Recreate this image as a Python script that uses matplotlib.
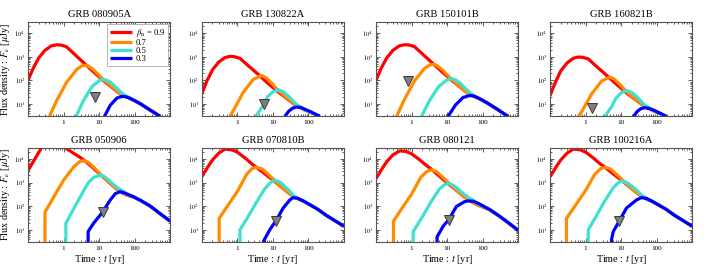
import matplotlib
matplotlib.use("Agg")
import matplotlib.pyplot as plt
from matplotlib.ticker import LogLocator, NullFormatter, FixedLocator, FixedFormatter

plt.rcParams['font.family'] = ['Liberation Serif', 'DejaVu Serif']
plt.rcParams['mathtext.fontset'] = 'stix'

# ---------------- data ----------------
titles = ["GRB 080905A", "GRB 130822A", "GRB 150101B", "GRB 160821B",
          "GRB 050906", "GRB 070810B", "GRB 080121", "GRB 100216A"]
betas = ["0.9", "0.7", "0.5", "0.3"]

# GRB 080905A
t_080905A_09 = [0.1, 0.14, 0.2, 0.3, 0.45, 0.64, 0.85, 1.2, 2.0, 4.0, 7.0, 13, 20, 40, 70, 150, 520]
f_080905A_09 = [101, 330, 900, 1900, 2900, 3250, 3150, 2700, 1320, 500, 230, 100, 60, 26, 18, 10, 3]
t_080905A_07 = [0.40, 0.64, 1.23, 2.35, 3.2, 4.0, 5.0, 7.0, 13, 20, 40, 70, 150, 520]
f_080905A_07 = [3, 14, 86, 295, 410, 440, 410, 280, 110, 65, 27, 18.3, 10, 3]
t_080905A_05 = [2.25, 3.62, 6.2, 9.6, 13.2, 17, 22, 30, 45, 70, 150, 520]
f_080905A_05 = [3, 14, 53, 94, 111, 100, 78, 50, 28, 18.6, 10.2, 3]
t_080905A_03 = [14.1, 20.4, 31.5, 43.5, 55, 67, 100, 143, 250, 522]
f_080905A_03 = [3, 8.8, 18, 21, 20.5, 18.6, 14, 10.3, 6, 3]

# GRB 130822A
t_130822A_09 = [0.1, 0.14, 0.2, 0.3, 0.45, 0.62, 0.85, 1.2, 2.0, 4.0, 7.0, 14, 20, 46, 80, 208]
f_130822A_09 = [27, 95, 280, 600, 930, 1050, 1010, 860, 430, 175, 80, 33, 22, 8.5, 5.5, 3]
t_130822A_07 = [0.62, 0.77, 1.48, 2.83, 4.8, 6.5, 9, 14, 20, 46, 80, 208]
f_130822A_07 = [3, 5.2, 32, 111, 164, 130, 80, 38, 24, 8.8, 5.6, 3]
t_130822A_05 = [3.3, 5.6, 7.0, 10, 14.1, 20, 30, 46, 80, 208]
f_130822A_05 = [3, 9.7, 20, 33, 40.6, 33, 19, 9.5, 5.7, 3]
t_130822A_03 = [21.7, 28, 36, 46, 60, 80, 120, 208]
f_130822A_03 = [3, 5, 6.7, 7.5, 7.2, 6, 4.6, 3]

# GRB 150101B
t_150101B_09 = [0.1, 0.14, 0.2, 0.3, 0.45, 0.65, 0.85, 1.2, 2.0, 4.0, 7.0, 13, 20, 40, 70, 150, 513]
f_150101B_09 = [101, 330, 900, 1900, 2900, 3280, 3180, 2730, 1350, 520, 240, 105, 63, 27, 18.5, 10, 3]
t_150101B_07 = [0.38, 0.62, 1.2, 2.3, 3.2, 4.05, 5, 7, 13, 20, 40, 70, 150, 513]
f_150101B_07 = [3, 15, 95, 320, 450, 480, 440, 300, 115, 66, 27, 18.5, 10, 3]
t_150101B_05 = [1.9, 3.2, 5.8, 9.4, 13.2, 17, 22, 30, 45, 70, 150, 513]
f_150101B_05 = [3, 14, 56, 100, 119, 106, 82, 52, 29, 18.8, 10.2, 3]
t_150101B_03 = [10.6, 17, 28, 43, 55, 67, 100, 143, 250, 513]
f_150101B_03 = [3, 9, 19, 23, 22, 19.5, 14.5, 10.5, 6.2, 3]

# GRB 160821B
t_160821B_09 = [0.1, 0.14, 0.2, 0.3, 0.45, 0.62, 0.85, 1.2, 2.0, 4.0, 7.0, 14, 20, 46, 80, 186]
f_160821B_09 = [23, 80, 250, 550, 870, 985, 950, 810, 400, 160, 74, 30, 20, 8, 5.2, 3]
t_160821B_07 = [0.62, 0.77, 1.48, 2.83, 4.8, 6.5, 9, 14, 20, 46, 80, 186]
f_160821B_07 = [3, 4.6, 27, 95, 140, 112, 70, 34, 21, 8.3, 5.3, 3]
t_160821B_05 = [3.5, 5.6, 7.0, 10, 14.1, 20, 30, 46, 80, 186]
f_160821B_05 = [3, 8.5, 17, 30, 38, 31, 18, 9, 5.4, 3]
t_160821B_03 = [22.6, 28, 36, 46, 60, 80, 120, 186]
f_160821B_03 = [3, 4.8, 6.4, 7, 6.6, 5.6, 4.2, 3]

# GRB 050906
t_050906_09 = [0.1, 0.15, 0.24, 0.35, 0.5, 0.7, 1.1, 1.8, 2.9, 4.5, 7, 11, 18, 30, 40, 60, 93, 150, 274, 500, 1000]
f_050906_09 = [3240, 9000, 30000, 52000, 62000, 55000, 30000, 18500, 11700, 7200, 4000, 2100, 1100, 560, 400, 290, 240, 170, 100, 50, 23]
t_050906_07 = [0.30, 0.30, 0.5, 1.0, 1.9, 2.8, 3.6, 5, 8, 12, 20, 30, 40, 60, 93, 150, 274, 500, 1000]
f_050906_07 = [1, 56, 210, 1260, 4500, 7600, 8500, 7200, 3700, 1900, 1000, 580, 410, 295, 243, 170, 100, 50, 23]
t_050906_05 = [1.16, 1.16, 2, 3.5, 5, 7, 10.7, 14, 20, 25, 35, 48, 60, 93, 150, 274, 500, 1000]
f_050906_05 = [1, 19, 86, 400, 1000, 1650, 2040, 1800, 1150, 830, 560, 430, 320, 248, 170, 100, 50, 23]
t_050906_03 = [4.9, 4.9, 7, 10.7, 12.6, 20.4, 28.5, 39, 55, 93, 150, 274, 500, 1000]
f_050906_03 = [1, 8.4, 19, 42, 58, 180, 340, 410, 350, 250, 172, 100, 50, 23]

# GRB 070810B
t_070810B_09 = [0.1, 0.15, 0.2, 0.3, 0.45, 0.7, 1.0, 1.6, 2.5, 3.33, 5, 8, 11.4, 18, 30, 50, 70, 110, 180, 316, 560, 1000]
f_070810B_09 = [1750, 4700, 9000, 17500, 26000, 24500, 19500, 11500, 6400, 4600, 2900, 1650, 1100, 620, 330, 205, 165, 115, 75, 41, 24, 14]
t_070810B_07 = [0.31, 0.31, 0.5, 1.0, 1.8, 2.5, 3.33, 5, 8, 12, 18, 30, 50, 70, 110, 180, 316, 560, 1000]
f_070810B_07 = [1, 30, 90, 410, 2150, 3700, 4500, 3800, 2000, 1120, 630, 335, 205, 168, 115, 75, 41, 24, 14]
t_070810B_05 = [1.19, 1.19, 2, 3.5, 6, 9, 11.4, 16, 25, 37, 53, 70, 110, 180, 316, 560, 1000]
f_070810B_05 = [1, 10, 35, 150, 560, 1070, 1250, 1050, 560, 300, 200, 168, 115, 75, 41, 24, 14]
t_070810B_03 = [5.6, 5.6, 8.2, 12, 19.5, 30, 37, 50, 70, 110, 180, 316, 560, 1000]
f_070810B_03 = [1, 3.5, 10, 23, 83, 183, 230, 215, 170, 115, 75, 41, 24, 14]

# GRB 080121
t_080121_09 = [0.1, 0.15, 0.2, 0.3, 0.47, 0.7, 1.0, 1.6, 2.5, 3.6, 5, 8, 10.7, 18, 30, 50, 70, 157, 300, 460, 1000]
f_080121_09 = [1470, 4000, 7600, 15000, 22000, 20800, 16500, 9800, 5600, 3700, 2400, 1300, 900, 480, 250, 150, 115, 70, 37, 23, 9.4]
t_080121_07 = [0.31, 0.31, 0.5, 1.0, 1.8, 2.6, 3.6, 5, 8, 12, 18, 30, 50, 70, 157, 300, 460, 1000]
f_080121_07 = [1, 23, 70, 320, 1650, 2850, 3500, 2950, 1550, 850, 480, 250, 150, 115, 70, 37, 23, 9.4]
t_080121_05 = [1.11, 1.11, 2, 3.5, 6, 8.5, 10.7, 15, 22, 30, 40, 55, 80, 157, 300, 460, 1000]
f_080121_05 = [1, 8.4, 35, 150, 520, 820, 910, 770, 470, 320, 230, 175, 120, 72, 37, 23, 9.4]
t_080121_03 = [5.2, 5.2, 7.7, 11.1, 18.2, 31, 39, 55, 80, 157, 300, 460, 1000]
f_080121_03 = [1, 5, 14, 27, 97, 155, 167, 160, 125, 72, 37, 23, 9.4]

# GRB 100216A
t_100216A_09 = [0.1, 0.15, 0.2, 0.3, 0.45, 0.7, 1.0, 1.6, 2.5, 3.5, 5, 8, 11.4, 18, 30, 50, 70, 110, 180, 316, 560, 1000]
f_100216A_09 = [1750, 4700, 9000, 17500, 26000, 24500, 19500, 11500, 6400, 4500, 2900, 1650, 1100, 620, 330, 205, 165, 115, 75, 41, 24, 14]
t_100216A_07 = [0.29, 0.29, 0.5, 1.0, 1.8, 2.6, 3.5, 5, 8, 12, 18, 30, 50, 70, 110, 180, 316, 560, 1000]
f_100216A_07 = [1, 30, 100, 460, 2200, 3800, 4500, 3800, 2000, 1120, 630, 335, 205, 168, 115, 75, 41, 24, 14]
t_100216A_05 = [1.19, 1.19, 2, 3.5, 6, 8.5, 10.2, 15, 25, 37, 53, 70, 110, 180, 316, 560, 1000]
f_100216A_05 = [1, 10, 38, 170, 600, 1020, 1140, 980, 540, 300, 200, 168, 115, 75, 41, 24, 14]
t_100216A_03 = [5.4, 5.4, 6, 8.8, 14.1, 27, 37, 50, 70, 110, 180, 316, 560, 1000]
f_100216A_03 = [1, 4, 8.4, 23, 83, 183, 230, 215, 170, 115, 75, 41, 24, 14]

# upper limits (time [yr], flux [uJy])
ul_t = [7.7, 5.6, 0.81, 1.54, 12.6, 12, 11.1, 8.8]
ul_f = [20, 9.7, 91, 6.5, 56, 23, 27, 23]

curves = [
    [(t_080905A_09, f_080905A_09), (t_080905A_07, f_080905A_07), (t_080905A_05, f_080905A_05), (t_080905A_03, f_080905A_03)],
    [(t_130822A_09, f_130822A_09), (t_130822A_07, f_130822A_07), (t_130822A_05, f_130822A_05), (t_130822A_03, f_130822A_03)],
    [(t_150101B_09, f_150101B_09), (t_150101B_07, f_150101B_07), (t_150101B_05, f_150101B_05), (t_150101B_03, f_150101B_03)],
    [(t_160821B_09, f_160821B_09), (t_160821B_07, f_160821B_07), (t_160821B_05, f_160821B_05), (t_160821B_03, f_160821B_03)],
    [(t_050906_09, f_050906_09), (t_050906_07, f_050906_07), (t_050906_05, f_050906_05), (t_050906_03, f_050906_03)],
    [(t_070810B_09, f_070810B_09), (t_070810B_07, f_070810B_07), (t_070810B_05, f_070810B_05), (t_070810B_03, f_070810B_03)],
    [(t_080121_09, f_080121_09), (t_080121_07, f_080121_07), (t_080121_05, f_080121_05), (t_080121_03, f_080121_03)],
    [(t_100216A_09, f_100216A_09), (t_100216A_07, f_100216A_07), (t_100216A_05, f_100216A_05), (t_100216A_03, f_100216A_03)],
]

colors = ['#ff0000', '#ff8c00', '#40e0d0', '#0000ff']

# ---------------- figure ----------------
W, H = 707, 267
fig = plt.figure(figsize=(W / 100, H / 100), dpi=100)
col_left = [28, 201.7, 376, 550]
ax_w = 142.3
row_top = [22, 147.7]
ax_h = 94.4

for i in range(8):
    r, c = divmod(i, 4)
    x0 = col_left[c] / W
    y0 = 1 - (row_top[r] + ax_h) / H
    ax = fig.add_axes([x0, y0, ax_w / W, ax_h / H])
    for k, (tt, ff) in enumerate(curves[i]):
        lab = (r"$\beta_{\rm n}$ = " + betas[k]) if k == 0 else betas[k]
        ax.plot(tt, ff, color=colors[k], lw=2.3, label=lab, solid_capstyle='butt',
                solid_joinstyle='round', zorder=2 + k)
    ax.plot([ul_t[i]], [ul_f[i]], marker='v', ms=6.5, mfc='#7f7f7f', mec='#3a3a3a',
            mew=0.7, ls='none', zorder=10)
    ax.set_xscale('log')
    ax.set_yscale('log')
    ax.set_xlim(0.1, 1000)
    ax.set_ylim(3, 3e4)
    ax.xaxis.set_major_locator(FixedLocator([1, 10, 100]))
    ax.xaxis.set_major_formatter(FixedFormatter(['1', '10', '100']))
    ax.xaxis.set_minor_locator(LogLocator(base=10, subs=range(1, 10), numticks=20))
    ax.xaxis.set_minor_formatter(NullFormatter())
    ax.yaxis.set_major_locator(FixedLocator([10, 100, 1000, 10000]))
    ax.yaxis.set_major_formatter(FixedFormatter([r'$10^{1}$', r'$10^{2}$', r'$10^{3}$', r'$10^{4}$']))
    ax.yaxis.set_minor_locator(LogLocator(base=10, subs=range(2, 10), numticks=20))
    ax.yaxis.set_minor_formatter(NullFormatter())
    ax.tick_params(which='both', direction='in', top=True, right=True, colors='#444444',
                   width=0.6)
    ax.tick_params(which='major', length=3)
    ax.tick_params(which='minor', length=1.5)
    ax.tick_params(axis='x', labelsize=5.2, pad=2.5, labelcolor='black')
    ax.tick_params(axis='y', labelsize=4.6, pad=2, labelcolor='black')
    for s in ax.spines.values():
        s.set_color('#555555')
        s.set_linewidth(0.8)
    ax.set_title(titles[i], fontsize=7.6, pad=3.5)
    if c == 0:
        ax.set_ylabel(r"Flux density : $F_{\nu}$ [$\mu$Jy]", fontsize=7.3, labelpad=2)
    if r == 1:
        ax.set_xlabel(r"Time : $t$ [yr]", fontsize=7.3, labelpad=2)
    if i == 0:
        leg = ax.legend(loc='upper right', fontsize=6.2, handlelength=2.5, handletextpad=0.5,
                        labelspacing=0.02, borderpad=0.3, borderaxespad=0.25,
                        fancybox=False, edgecolor='#aaaaaa', framealpha=1)
        leg.get_frame().set_linewidth(0.6)

fig.savefig("out.png", dpi=100)
